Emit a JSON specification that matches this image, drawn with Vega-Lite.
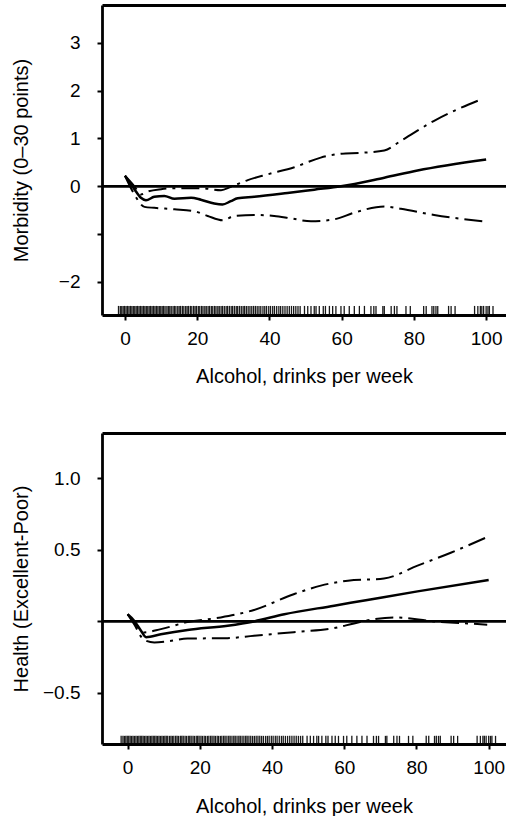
{
  "$schema": "https://vega.github.io/schema/vega-lite/v6.json",
  "padding": {"left": 11, "top": 5, "right": 0, "bottom": 0},
  "spacing": 46,
  "config": {
    "font": "Liberation Sans",
    "view": {"stroke": null},
    "axis": {
      "grid": false,
      "domainColor": "black",
      "domainWidth": 2.8,
      "tickColor": "black",
      "tickWidth": 2,
      "tickSize": 5,
      "labelColor": "black",
      "labelFontSize": 19,
      "labelFlush": false,
      "labelOverlap": false,
      "titleColor": "black",
      "titleFontSize": 20,
      "titleFontWeight": "normal"
    }
  },
  "datasets": {
    "rug": [
      {"drinks": -1.8}, {"drinks": -1.3}, {"drinks": -0.9}, {"drinks": -0.5}, {"drinks": -0.1}, {"drinks": 0.3}, {"drinks": 0.7}, {"drinks": 1.1}, {"drinks": 1.5}, {"drinks": 1.9},
      {"drinks": 2.3}, {"drinks": 2.7}, {"drinks": 3.1}, {"drinks": 3.5}, {"drinks": 3.9}, {"drinks": 4.3}, {"drinks": 4.7}, {"drinks": 5.1}, {"drinks": 5.5}, {"drinks": 5.9},
      {"drinks": 6.3}, {"drinks": 6.7}, {"drinks": 7.1}, {"drinks": 7.5}, {"drinks": 7.9}, {"drinks": 8.3}, {"drinks": 8.7}, {"drinks": 9.1}, {"drinks": 9.5}, {"drinks": 9.9},
      {"drinks": 10.3}, {"drinks": 10.7}, {"drinks": 11.1}, {"drinks": 11.6}, {"drinks": 12.0}, {"drinks": 12.4}, {"drinks": 12.8}, {"drinks": 13.3}, {"drinks": 13.7}, {"drinks": 14.1},
      {"drinks": 14.6}, {"drinks": 15.0}, {"drinks": 15.4}, {"drinks": 15.9}, {"drinks": 16.3}, {"drinks": 16.8}, {"drinks": 17.2}, {"drinks": 17.6}, {"drinks": 18.1}, {"drinks": 18.5},
      {"drinks": 19.0}, {"drinks": 19.4}, {"drinks": 19.8}, {"drinks": 20.3}, {"drinks": 20.7}, {"drinks": 21.2}, {"drinks": 21.6}, {"drinks": 22.1}, {"drinks": 22.5}, {"drinks": 23.0},
      {"drinks": 23.4}, {"drinks": 23.9}, {"drinks": 24.3}, {"drinks": 24.8}, {"drinks": 25.2}, {"drinks": 25.7}, {"drinks": 26.1}, {"drinks": 26.6}, {"drinks": 27.0}, {"drinks": 27.5},
      {"drinks": 28.0}, {"drinks": 28.4}, {"drinks": 28.9}, {"drinks": 29.4}, {"drinks": 29.8}, {"drinks": 30.3}, {"drinks": 30.8}, {"drinks": 31.2}, {"drinks": 31.7}, {"drinks": 32.2},
      {"drinks": 32.7}, {"drinks": 33.1}, {"drinks": 33.6}, {"drinks": 34.1}, {"drinks": 34.6}, {"drinks": 35.1}, {"drinks": 35.6}, {"drinks": 36.1}, {"drinks": 36.6}, {"drinks": 37.1},
      {"drinks": 37.6}, {"drinks": 38.2}, {"drinks": 38.7}, {"drinks": 39.2}, {"drinks": 39.8}, {"drinks": 40.3}, {"drinks": 40.9}, {"drinks": 41.4}, {"drinks": 42.0}, {"drinks": 42.6},
      {"drinks": 43.1}, {"drinks": 43.7}, {"drinks": 44.3}, {"drinks": 44.9}, {"drinks": 45.5}, {"drinks": 46.1}, {"drinks": 46.7}, {"drinks": 47.3}, {"drinks": 47.9}, {"drinks": 48.5},
      {"drinks": 49.7}, {"drinks": 50.6}, {"drinks": 51.5}, {"drinks": 52.4}, {"drinks": 52.9}, {"drinks": 53.8}, {"drinks": 54.9}, {"drinks": 55.5}, {"drinks": 56.6}, {"drinks": 57.5},
      {"drinks": 58.4}, {"drinks": 59.8}, {"drinks": 60.7}, {"drinks": 62.1}, {"drinks": 63.5}, {"drinks": 64.9}, {"drinks": 66.3}, {"drinks": 68.1}, {"drinks": 68.9}, {"drinks": 69.5},
      {"drinks": 71.4}, {"drinks": 71.8}, {"drinks": 73.7}, {"drinks": 74.6}, {"drinks": 75.3}, {"drinks": 77.8}, {"drinks": 79.0}, {"drinks": 82.7}, {"drinks": 83.4}, {"drinks": 85.0},
      {"drinks": 85.5}, {"drinks": 86.1}, {"drinks": 86.6}, {"drinks": 89.6}, {"drinks": 90.3}, {"drinks": 91.4}, {"drinks": 96.8}, {"drinks": 97.7}, {"drinks": 98.4}, {"drinks": 98.8},
      {"drinks": 99.3}, {"drinks": 100.0}, {"drinks": 100.5}, {"drinks": 100.9}, {"drinks": 101.9}
    ],
    "morb": [
      {"series": "est", "drinks": 0, "value": 0.22}, {"series": "est", "drinks": 2.6, "value": -0.06}, {"series": "est", "drinks": 4.4, "value": -0.24}, {"series": "est", "drinks": 5.8, "value": -0.29},
      {"series": "est", "drinks": 8.1, "value": -0.22}, {"series": "est", "drinks": 10.9, "value": -0.2}, {"series": "est", "drinks": 13.7, "value": -0.26}, {"series": "est", "drinks": 18.3, "value": -0.24},
      {"series": "est", "drinks": 21, "value": -0.28}, {"series": "est", "drinks": 24.7, "value": -0.36}, {"series": "est", "drinks": 27, "value": -0.38}, {"series": "est", "drinks": 29.3, "value": -0.31},
      {"series": "est", "drinks": 31.2, "value": -0.25}, {"series": "est", "drinks": 35.8, "value": -0.22}, {"series": "est", "drinks": 45, "value": -0.14}, {"series": "est", "drinks": 52.4, "value": -0.07},
      {"series": "est", "drinks": 59.8, "value": 0}, {"series": "est", "drinks": 71.8, "value": 0.18}, {"series": "est", "drinks": 81, "value": 0.33}, {"series": "est", "drinks": 100, "value": 0.56},
      {"series": "hi", "drinks": 0, "value": 0.22}, {"series": "hi", "drinks": 2.6, "value": 0}, {"series": "hi", "drinks": 4.4, "value": -0.17}, {"series": "hi", "drinks": 6.3, "value": -0.11},
      {"series": "hi", "drinks": 10, "value": -0.06}, {"series": "hi", "drinks": 13.7, "value": -0.04}, {"series": "hi", "drinks": 21, "value": -0.04}, {"series": "hi", "drinks": 26.6, "value": -0.08},
      {"series": "hi", "drinks": 29.3, "value": -0.01}, {"series": "hi", "drinks": 34, "value": 0.13}, {"series": "hi", "drinks": 39.5, "value": 0.25}, {"series": "hi", "drinks": 46.9, "value": 0.4},
      {"series": "hi", "drinks": 54.2, "value": 0.6}, {"series": "hi", "drinks": 59.8, "value": 0.68}, {"series": "hi", "drinks": 65.3, "value": 0.7}, {"series": "hi", "drinks": 71.8, "value": 0.75},
      {"series": "hi", "drinks": 76.4, "value": 0.95}, {"series": "hi", "drinks": 85.6, "value": 1.37}, {"series": "hi", "drinks": 99, "value": 1.83},
      {"series": "lo", "drinks": 0, "value": 0.22}, {"series": "lo", "drinks": 2.6, "value": -0.17}, {"series": "lo", "drinks": 5.4, "value": -0.43}, {"series": "lo", "drinks": 8.1, "value": -0.45},
      {"series": "lo", "drinks": 13.7, "value": -0.48}, {"series": "lo", "drinks": 19.2, "value": -0.52}, {"series": "lo", "drinks": 22.9, "value": -0.62}, {"series": "lo", "drinks": 27, "value": -0.71},
      {"series": "lo", "drinks": 30.3, "value": -0.62}, {"series": "lo", "drinks": 35.8, "value": -0.6}, {"series": "lo", "drinks": 41.3, "value": -0.62}, {"series": "lo", "drinks": 45.9, "value": -0.67},
      {"series": "lo", "drinks": 51.5, "value": -0.73}, {"series": "lo", "drinks": 57.9, "value": -0.69}, {"series": "lo", "drinks": 63.5, "value": -0.55}, {"series": "lo", "drinks": 71.8, "value": -0.42},
      {"series": "lo", "drinks": 76.4, "value": -0.47}, {"series": "lo", "drinks": 85.6, "value": -0.6}, {"series": "lo", "drinks": 99, "value": -0.73}
    ],
    "health": [
      {"series": "est", "drinks": 0, "value": 0.05}, {"series": "est", "drinks": 1.8, "value": 0.005}, {"series": "est", "drinks": 3.7, "value": -0.065}, {"series": "est", "drinks": 5.1, "value": -0.11},
      {"series": "est", "drinks": 9.2, "value": -0.09}, {"series": "est", "drinks": 16.6, "value": -0.06}, {"series": "est", "drinks": 27.7, "value": -0.03}, {"series": "est", "drinks": 35, "value": 0},
      {"series": "est", "drinks": 43.4, "value": 0.05}, {"series": "est", "drinks": 57.2, "value": 0.11}, {"series": "est", "drinks": 66.4, "value": 0.15}, {"series": "est", "drinks": 80.3, "value": 0.21},
      {"series": "est", "drinks": 100, "value": 0.29},
      {"series": "hi", "drinks": 0, "value": 0.05}, {"series": "hi", "drinks": 1.8, "value": -0.007}, {"series": "hi", "drinks": 4.6, "value": -0.077}, {"series": "hi", "drinks": 9.2, "value": -0.054},
      {"series": "hi", "drinks": 16.6, "value": -0.005}, {"series": "hi", "drinks": 25.8, "value": 0.028}, {"series": "hi", "drinks": 35, "value": 0.08}, {"series": "hi", "drinks": 46, "value": 0.19},
      {"series": "hi", "drinks": 53.5, "value": 0.25}, {"series": "hi", "drinks": 61, "value": 0.285}, {"series": "hi", "drinks": 71, "value": 0.3}, {"series": "hi", "drinks": 80.3, "value": 0.39},
      {"series": "hi", "drinks": 89.5, "value": 0.48}, {"series": "hi", "drinks": 99.6, "value": 0.59},
      {"series": "lo", "drinks": 0, "value": 0.05}, {"series": "lo", "drinks": 1.8, "value": -0.02}, {"series": "lo", "drinks": 4.6, "value": -0.13}, {"series": "lo", "drinks": 7.4, "value": -0.147},
      {"series": "lo", "drinks": 11, "value": -0.14}, {"series": "lo", "drinks": 16.6, "value": -0.12}, {"series": "lo", "drinks": 27.7, "value": -0.117}, {"series": "lo", "drinks": 35, "value": -0.1},
      {"series": "lo", "drinks": 46, "value": -0.075}, {"series": "lo", "drinks": 57.2, "value": -0.047}, {"series": "lo", "drinks": 62.7, "value": -0.014}, {"series": "lo", "drinks": 68.3, "value": 0.016},
      {"series": "lo", "drinks": 73.8, "value": 0.028}, {"series": "lo", "drinks": 84.9, "value": 0}, {"series": "lo", "drinks": 94.1, "value": -0.014}, {"series": "lo", "drinks": 99.6, "value": -0.023}
    ]
  },
  "vconcat": [
    {
      "width": 404,
      "height": 310,
      "resolve": {"axis": {"x": "independent"}},
      "layer": [
        {
          "data": {"name": "rug"},
          "mark": {"type": "rule", "color": "black", "strokeWidth": 1.3, "opacity": 0.9},
          "encoding": {
            "x": {"field": "drinks", "type": "quantitative",
                  "scale": {"domain": [-6.37, 105.5], "nice": false, "zero": false},
                  "axis": {"values": [0, 20, 40, 60, 80, 100], "format": "d", "labelPadding": 9,
                           "title": "Alcohol, drinks per week", "titleY": 67.5, "titleBaseline": "alphabetic"}},
            "y": {"datum": -2.5},
            "y2": {"datum": -2.69}
          }
        },
        {
          "data": {"values": [{}]},
          "mark": {"type": "rule", "color": "black", "strokeWidth": 2.8},
          "encoding": {"y": {"datum": 0}}
        },
        {
          "data": {"name": "morb"},
          "transform": [{"filter": "datum.series !== 'est'"}],
          "mark": {"type": "line", "interpolate": "monotone", "color": "black", "strokeWidth": 2, "strokeDash": [18, 6, 3, 6]},
          "encoding": {
            "x": {"field": "drinks", "type": "quantitative",
                  "axis": {"orient": "top", "labels": false, "ticks": false, "title": null}},
            "y": {"field": "value", "type": "quantitative",
                  "scale": {"domain": [-2.69, 3.79], "nice": false, "zero": false},
                  "axis": {"values": [-2, -1, 0, 1, 2, 3], "format": "d",
                           "labelExpr": "datum.value == -1 ? '' : datum.label",
                           "labelPadding": 17, "title": "Morbidity (0–30 points)",
                           "titleX": -74.5, "titleBaseline": "alphabetic"}},
            "detail": {"field": "series"}
          }
        },
        {
          "data": {"name": "morb"},
          "transform": [{"filter": "datum.series === 'est'"}],
          "mark": {"type": "line", "interpolate": "monotone", "color": "black", "strokeWidth": 2.5},
          "encoding": {
            "x": {"field": "drinks", "type": "quantitative", "axis": null},
            "y": {"field": "value", "type": "quantitative"}
          }
        }
      ]
    },
    {
      "width": 404,
      "height": 311,
      "resolve": {"axis": {"x": "independent"}},
      "layer": [
        {
          "data": {"name": "rug"},
          "mark": {"type": "rule", "color": "black", "strokeWidth": 1.3, "opacity": 0.9},
          "encoding": {
            "x": {"field": "drinks", "type": "quantitative",
                  "scale": {"domain": [-7.1, 104.8], "nice": false, "zero": false},
                  "axis": {"values": [0, 20, 40, 60, 80, 100], "format": "d", "labelPadding": 9,
                           "title": "Alcohol, drinks per week", "titleY": 68, "titleBaseline": "alphabetic"}},
            "y": {"datum": -0.8},
            "y2": {"datum": -0.857}
          }
        },
        {
          "data": {"values": [{}]},
          "mark": {"type": "rule", "color": "black", "strokeWidth": 2.8},
          "encoding": {"y": {"datum": 0}}
        },
        {
          "data": {"name": "health"},
          "transform": [{"filter": "datum.series !== 'est'"}],
          "mark": {"type": "line", "interpolate": "monotone", "color": "black", "strokeWidth": 2, "strokeDash": [18, 6, 3, 6]},
          "encoding": {
            "x": {"field": "drinks", "type": "quantitative",
                  "axis": {"orient": "top", "labels": false, "ticks": false, "title": null}},
            "y": {"field": "value", "type": "quantitative",
                  "scale": {"domain": [-0.857, 1.317], "nice": false, "zero": false},
                  "axis": {"values": [-0.5, 0, 0.5, 1], "format": ".1f",
                           "labelExpr": "datum.value == 0 ? '' : datum.label",
                           "labelPadding": 17, "title": "Health (Excellent-Poor)",
                           "titleX": -74.5, "titleBaseline": "alphabetic"}},
            "detail": {"field": "series"}
          }
        },
        {
          "data": {"name": "health"},
          "transform": [{"filter": "datum.series === 'est'"}],
          "mark": {"type": "line", "interpolate": "monotone", "color": "black", "strokeWidth": 2.5},
          "encoding": {
            "x": {"field": "drinks", "type": "quantitative", "axis": null},
            "y": {"field": "value", "type": "quantitative"}
          }
        }
      ]
    }
  ]
}
